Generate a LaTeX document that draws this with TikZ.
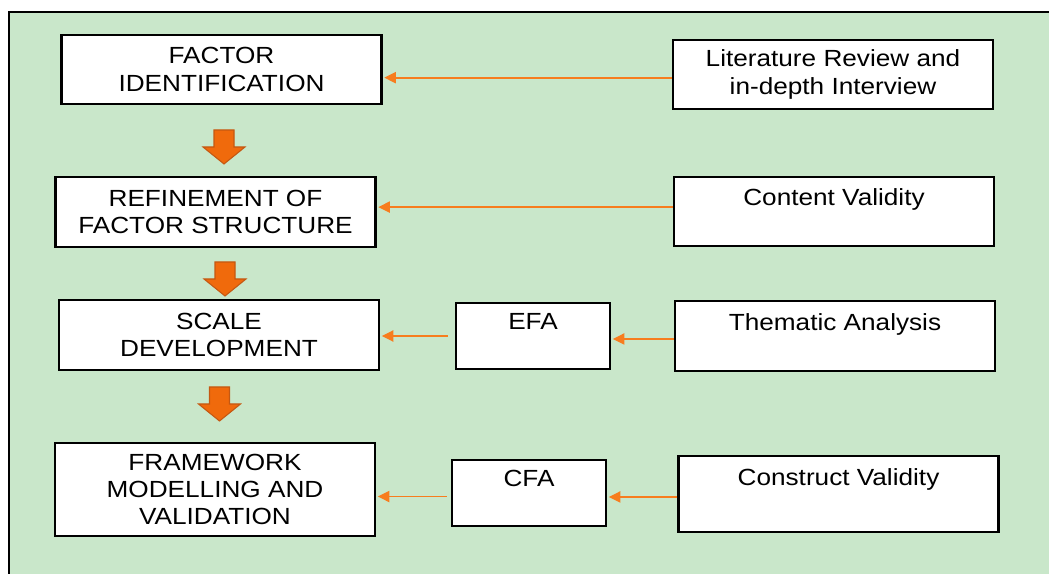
\documentclass[tikz,border=0pt]{standalone}
\usepackage{fontspec}
\setmainfont{Liberation Sans}[FakeStretch=1.12]
\usetikzlibrary{arrows.meta}

\definecolor{panelgreen}{RGB}{201,231,202}
\definecolor{lineorange}{RGB}{247,125,30}
\definecolor{blockorange}{RGB}{240,106,12}
\definecolor{blockedge}{RGB}{196,88,18}

\begin{document}
\begin{tikzpicture}[
  x=0.02cm, y=-0.02cm,
  stagebox/.style={draw, line width=1.2pt, fill=white, minimum width=6.4cm, minimum height=1.4cm,
                   font=\fontsize{13.3}{15.6}\selectfont, align=center, inner sep=2pt},
  inputbox/.style={draw, line width=1.2pt, fill=white, minimum width=6.4cm, minimum height=1.38cm,
                   font=\fontsize{13.3}{15.6}\selectfont, align=center, inner sep=2pt},
  toolbox/.style={draw, line width=1.2pt, fill=white, minimum width=3.08cm, minimum height=1.32cm,
                  font=\fontsize{13.3}{15.6}\selectfont, align=center, inner sep=2pt},
  flow/.style={draw=lineorange, line width=1.1pt, shorten >=1pt,
               -{Triangle[length=2.3mm,width=2.2mm]}},
]
  \clip (0,0) rectangle (1049,574);

  % Panel
  \draw[fill=panelgreen, line width=0.9pt] (9,12) rectangle (1060,590);

  % Stages
  \node[stagebox, minimum height=1.38cm] (fid) at (221.5,69.5) {FACTOR\\IDENTIFICATION};
  \node[stagebox] (ref) at (215.5,212) {REFINEMENT OF\\FACTOR STRUCTURE};
  \node[stagebox] (scd) at (219,335) {SCALE\\DEVELOPMENT};
  \node[stagebox, minimum height=1.86cm] (fmv) at (215,489.5) {FRAMEWORK\\MODELLING AND\\VALIDATION};

  % Inputs (one line of text, kept at the top)
  \node[inputbox] (lit) at (833,74.5) {Literature Review and\\in-depth Interview};
  \node[inputbox] (cnv) at (834,211.5) {Content Validity\\[-4pt]\strut};
  \node[inputbox, minimum height=1.4cm] (tha) at (835,336) {Thematic Analysis\\[-4pt]\strut};
  \node[inputbox, minimum height=1.52cm] (csv) at (838.5,494) {Construct Validity\\[-1pt]\strut};

  % Analyses
  \node[toolbox] (efa) at (533,336) {EFA\\[-4pt]\strut};
  \node[toolbox] (cfa) at (529,493) {CFA\\[-4pt]\strut};

  % Block arrows between stages
  \foreach \x/\y in {224/130, 225/262, 219.5/387}
    \draw[fill=blockorange, draw=blockedge, line width=0.6pt]
      (\x-10,\y) -- (\x+10,\y) -- (\x+10,\y+17) -- (\x+21,\y+17) -- (\x,\y+34)
      -- (\x-21,\y+17) -- (\x-10,\y+17) -- cycle;

  % Arrows
  \draw[flow] ([yshift=-1.8pt]lit.west) -- ([yshift=-1.8pt]lit.west -| fid.east);
  \draw[flow] ([yshift=2.5pt]cnv.west) -- ([yshift=2.5pt]cnv.west -| ref.east);
  \draw[flow] ([yshift=-1.7pt]tha.west) -- ([yshift=-1.7pt]tha.west -| efa.east);
  \draw[flow, shorten <=0.14cm] (efa.west) -- (efa.west -| scd.east);
  \draw[flow] ([yshift=-1.7pt]csv.west) -- ([yshift=-1.7pt]csv.west -| cfa.east);
  \draw[flow, shorten <=0.08cm] ([yshift=-2pt]cfa.west) -- ([yshift=-2pt]cfa.west -| fmv.east);
\end{tikzpicture}
\end{document}
